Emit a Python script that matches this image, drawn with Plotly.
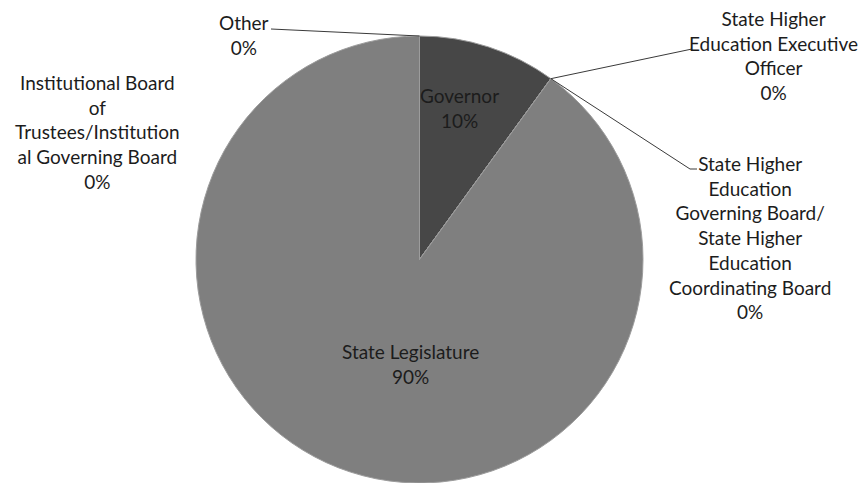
import math
import plotly.graph_objects as go

# Who sets tuition: share of responses by body
labels = [
    "Governor",
    "State Higher Education Executive Officer",
    "State Higher Education Governing Board/ State Higher Education Coordinating Board",
    "State Legislature",
    "Institutional Board of Trustees/Institutional Governing Board",
    "Other",
]
values = [10, 0, 0, 90, 0, 0]
colors = ["#474747", "#7f7f7f", "#7f7f7f", "#7f7f7f", "#7f7f7f", "#7f7f7f"]

# Wrapped display text for each category
display = [
    "Governor",
    "State Higher<br>Education Executive<br>Officer",
    "State Higher<br>Education<br>Governing Board/<br>State Higher<br>Education<br>Coordinating Board",
    "State Legislature",
    "Institutional Board<br>of<br>Trustees/Institution<br>al Governing Board",
    "Other",
]

W, H = 860, 483
TOP = 36
dom_x = [196 / W, 643 / W]
dom_y = [0, 1 - TOP / H]
cx = (dom_x[0] + dom_x[1]) / 2 * W
cy = TOP + (H - TOP) / 2
R = (H - TOP) / 2

total = sum(values)
pct = [round(v / total * 100) for v in values]

fig = go.Figure(
    go.Pie(
        labels=labels,
        values=values,
        sort=False,
        direction="clockwise",
        rotation=0,
        marker=dict(colors=colors, line=dict(color="#9c9c9c", width=1)),
        textinfo="none",
        hoverinfo="label+percent",
        domain=dict(x=dom_x, y=dom_y),
        showlegend=False,
    )
)


def px(x, y):
    return x / W, 1 - y / H


def edge_point(frac):
    a = 2 * math.pi * frac
    return cx + R * math.sin(a), cy - R * math.cos(a)


cum = [sum(values[:i]) / total for i in range(len(values))]

# label block centres (pixels)
label_pos = [
    (460, 108),
    (773, 55),
    (750, 238),
    (410, 364),
    (97, 132),
    (244, 35),
]

font = dict(family="Lato, Open Sans, sans-serif", size=19, color="#1c1c1c")
for i, (x, y) in enumerate(label_pos):
    ax, ay = px(x, y)
    fig.add_annotation(
        x=ax, y=ay, xref="paper", yref="paper",
        text=f"{display[i]}<br>{pct[i]}%",
        showarrow=False, align="center",
        xanchor="center", yanchor="middle", font=font,
    )

# leader lines from zero-size slices to their labels
leaders = {
    1: [(692, 49)],
    2: [(690, 169), (697, 169)],
    5: [(271, 29)],
}
for i, pts in leaders.items():
    path = [edge_point(cum[i])] + pts
    for (x0, y0), (x1, y1) in zip(path[:-1], path[1:]):
        a0, b0 = px(x0, y0)
        a1, b1 = px(x1, y1)
        fig.add_shape(type="line", xref="paper", yref="paper",
                      x0=a0, y0=b0, x1=a1, y1=b1,
                      line=dict(color="#3a3a3a", width=1))

fig.update_layout(
    width=W, height=H,
    margin=dict(l=0, r=0, t=0, b=0),
    paper_bgcolor="white", plot_bgcolor="white",
)

fig.write_html("out.html")
